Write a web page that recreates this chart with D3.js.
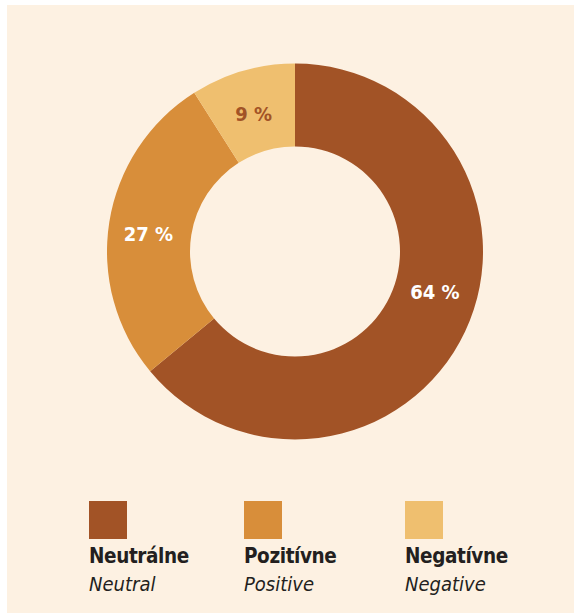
<!DOCTYPE html>
<html><head><meta charset="utf-8">
<script src="https://cdn.jsdelivr.net/npm/d3@7"></script>
<style>
html,body{margin:0;padding:0;background:#fff;}
svg{display:block;}
text{font-family:"DejaVu Sans Condensed","DejaVu Sans",sans-serif;font-stretch:condensed;}
</style></head>
<body><svg id="c" width="574" height="613"></svg>
<script>
const categories = ["Neutrálne","Pozitívne","Negatívne"];
const categoriesEn = ["Neutral","Positive","Negative"];
const values = [64, 27, 9];
const colors = ["#a25326","#d88e3a","#efbf6f"];
const labelColors = ["#ffffff","#ffffff","#a25326"];

const svg = d3.select("#c");
svg.append("rect").attr("x",7).attr("y",5).attr("width",567).attr("height",608).attr("fill","#fdf1e2");

const cx = 295, cy = 251.5, rOuter = 188, rInner = 105;
const pie = d3.pie().sort(null).value(d=>d)(values);
const arc = d3.arc().innerRadius(rInner).outerRadius(rOuter);
const g = svg.append("g").attr("transform",`translate(${cx},${cy})`);
g.selectAll("path").data(pie).enter().append("path")
  .attr("d",arc).attr("fill",(d,i)=>colors[i]);

const labelAngleShift = [-0.16, 0, 0];
const labelDy = [0, 6, 5];
const labelR = (rInner+rOuter)/2 + 2;
g.selectAll("text.v").data(pie).enter().append("text")
  .attr("class","v")
  .attr("x",(d,i)=>{const a=(d.startAngle+d.endAngle)/2+labelAngleShift[i];return (i===0?labelR-3:labelR)*Math.sin(a);})
  .attr("y",(d,i)=>{const a=(d.startAngle+d.endAngle)/2+labelAngleShift[i];return -(i===0?labelR-3:labelR)*Math.cos(a)+labelDy[i];})
  .attr("dy","0.36em")
  .attr("text-anchor","middle")
  .attr("font-weight","bold").attr("font-size",20)
  .attr("fill",(d,i)=>labelColors[i])
  .text((d,i)=>values[i]+" %");

const legXs = [89,244,405];
const lg = svg.append("g");
categories.forEach((c,i)=>{
  const x = legXs[i];
  lg.append("rect").attr("x",x).attr("y",501).attr("width",38).attr("height",38).attr("fill",colors[i]);
  lg.append("text").attr("x",x).attr("y",562.5).attr("font-weight","bold").attr("font-size",20.5).attr("letter-spacing",-0.4).attr("fill","#231f20").text(c);
  lg.append("text").attr("x",x).attr("y",590.5).attr("font-style","italic").attr("font-size",20).attr("fill","#231f20").text(categoriesEn[i]);
});
</script></body></html>
